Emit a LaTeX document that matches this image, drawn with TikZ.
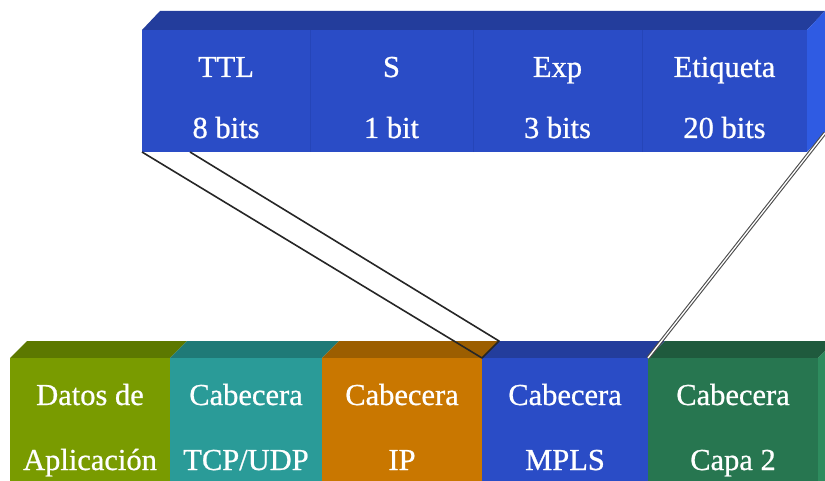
\documentclass[tikz,border=0pt]{standalone}
\usepackage{fontspec}
\setmainfont{Liberation Serif}
\newfontfamily\labelfont[FakeBold=0.7]{Liberation Serif}
\definecolor{mplsblue}{HTML}{2A4CC6}
\definecolor{mplstop}{HTML}{233D9C}
\definecolor{mplsside}{HTML}{2F5BE3}
\definecolor{mplsrule}{HTML}{2545B8}
\definecolor{appgreen}{HTML}{799B00}
\definecolor{apptop}{HTML}{5C7800}
\definecolor{tcpteal}{HTML}{2A9B98}
\definecolor{tcptop}{HTML}{1F7A77}
\definecolor{iporange}{HTML}{C97700}
\definecolor{iptop}{HTML}{9C5E00}
\definecolor{l2green}{HTML}{277650}
\definecolor{l2top}{HTML}{1F5A3D}
\definecolor{l2side}{HTML}{2E8C5E}
\tikzset{
  face/.style={inner sep=0pt, outer sep=0pt, draw=none, anchor=north west},
  lbl/.style={text=white, anchor=base, inner sep=0pt,
    font=\labelfont\fontsize{30.5}{31}\selectfont},
  strip/.style={draw=black!85, line width=1.6pt, line join=round},
  dstrip/.style={draw=black!70, line width=1.1pt, double=white, double distance=1.3pt}
}
\begin{document}
\begin{tikzpicture}[x=1pt, y=-1pt]
\useasboundingbox (0,0) rectangle (825,481);
\begin{scope}
\clip (0,0) rectangle (825,481);

% ---- label block (top) ----
\fill[mplstop] (142,30) -- (160,11) -- (825,11) -- (807,30) -- cycle;
\fill[mplsside] (807,30) -- (825,11) -- (825,133) -- (807,152) -- cycle;
\node[face, fill=mplsblue, minimum width=168pt, minimum height=122pt] (ttl) at (142,30) {};
\node[face, fill=mplsblue, minimum width=163pt, minimum height=122pt] (sbit) at (310,30) {};
\node[face, fill=mplsblue, minimum width=169pt, minimum height=122pt] (exp) at (473,30) {};
\node[face, fill=mplsblue, minimum width=165pt, minimum height=122pt] (etq) at (642,30) {};
\draw[mplsrule, line width=0.8pt] (sbit.north west) -- (sbit.south west)
  (exp.north west) -- (exp.south west) (etq.north west) -- (etq.south west);

\node[lbl] (ttlname) at (ttl.center |- 0,77) {TTL};
\node[lbl] (ttlsize) at (ttl.center |- 0,138) {8 bits};
\node[lbl] (sname) at (sbit.center |- 0,77) {S};
\node[lbl] (ssize) at (sbit.center |- 0,138) {1 bit};
\node[lbl] (expname) at (exp.center |- 0,77) {Exp};
\node[lbl] (expsize) at (exp.center |- 0,138) {3 bits};
\node[lbl] (etqname) at (etq.center |- 0,77) {Etiqueta};
\node[lbl] (etqsize) at (etq.center |- 0,138) {20 bits};

% ---- packet (bottom) ----
\fill[apptop] (10,358) -- (27,341) -- (187,341) -- (170,358) -- cycle;
\fill[tcptop] (170,358) -- (187,341) -- (339,341) -- (322,358) -- cycle;
\fill[iptop] (322,358) -- (339,341) -- (499,341) -- (482,358) -- cycle;
\fill[mplstop] (482,358) -- (499,341) -- (665,341) -- (648,358) -- cycle;
\fill[l2top] (648,358) -- (665,341) -- (835,341) -- (818,358) -- cycle;
\fill[l2side] (818,358) -- (835,341) -- (835,481) -- (818,481) -- cycle;

\node[face, fill=appgreen, minimum width=160pt, minimum height=123pt] (app) at (10,358) {};
\node[face, fill=tcpteal, minimum width=152pt, minimum height=123pt] (tcp) at (170,358) {};
\node[face, fill=iporange, minimum width=160pt, minimum height=123pt] (ip) at (322,358) {};
\node[face, fill=mplsblue, minimum width=166pt, minimum height=123pt] (mpls) at (482,358) {};
\node[face, fill=l2green, minimum width=170pt, minimum height=123pt] (l2) at (648,358) {};

\node[lbl] (appa) at (app.center |- 0,405) {Datos de};
\node[lbl] (appb) at (app.center |- 0,470) {Aplicación};
\node[lbl] (tcpa) at (tcp.center |- 0,405) {Cabecera};
\node[lbl] (tcpb) at (tcp.center |- 0,470) {TCP/UDP};
\node[lbl] (ipa) at (ip.center |- 0,405) {Cabecera};
\node[lbl] (ipb) at (ip.center |- 0,470) {IP};
\node[lbl] (mplsa) at (mpls.center |- 0,405) {Cabecera};
\node[lbl] (mplsb) at (mpls.center |- 0,470) {MPLS};
\node[lbl] (l2a) at (l2.center |- 0,405) {Cabecera};
\node[lbl] (l2b) at (l2.center |- 0,470) {Capa 2};

% ---- projection of the header onto the MPLS block ----
\coordinate (ttlinner) at (190,152);
\coordinate (mplsback) at (499,341);
\coordinate (sidecorner) at (825,133);
\draw[strip] (ttl.south west) -- (mpls.north west) -- (mplsback) -- (ttlinner);
\draw[dstrip] (l2.north west) -- (sidecorner);
\end{scope}
\end{tikzpicture}
\end{document}
